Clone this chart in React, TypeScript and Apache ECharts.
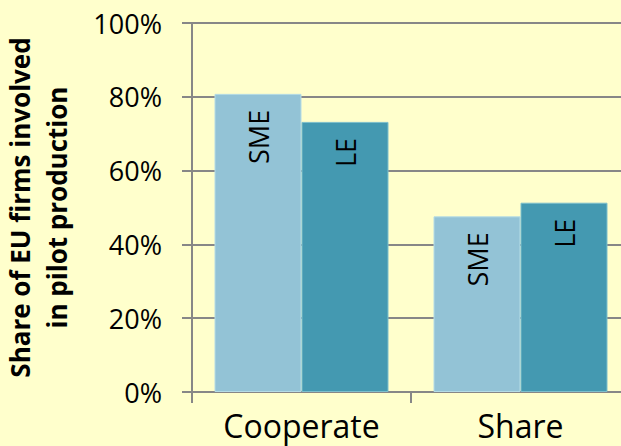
import React, { useEffect, useRef } from "react";
import * as echarts from "echarts";

const categories = ["Cooperate", "Share"];
const smeValues = [80.8, 47.6];
const leValues = [73.2, 51.3];
const seriesNames = ["SME", "LE"];
const yTicks = [0, 20, 40, 60, 80, 100];

const FONT = "'Open Sans', 'Noto Sans', sans-serif";

export default function App() {
  const ref = useRef<HTMLDivElement>(null);
  useEffect(() => {
    if (!ref.current) return;
    const chart = echarts.init(ref.current, null, { renderer: "svg" });
    const label = (name: string) => ({
      show: true,
      position: "insideTop",
      rotate: 90,
      align: "right",
      verticalAlign: "middle",
      distance: 16,
      formatter: () => name,
      color: "#000",
      fontFamily: FONT,
      fontSize: 27,
    });
    chart.setOption({
      animation: false,
      backgroundColor: "#FFFFCC",
      grid: {
        left: 192,
        top: 23,
        bottom: 54,
        right: -9,
        containLabel: false,
        outerBoundsMode: "none",
      },
      xAxis: {
        type: "category",
        data: categories,
        axisLine: { lineStyle: { color: "#878787", width: 2 } },
        axisTick: { show: true, length: 11, lineStyle: { color: "#878787", width: 2 } },
        axisLabel: { color: "#000", fontFamily: FONT, fontSize: 32, margin: 17 },
      },
      yAxis: {
        type: "value",
        min: yTicks[0],
        max: yTicks[yTicks.length - 1],
        interval: 20,
        name: "Share of EU firms involved\nin pilot production",
        nameLocation: "middle",
        nameGap: 117,
        nameTextStyle: {
          color: "#000",
          fontFamily: FONT,
          fontWeight: "bold",
          fontSize: 26,
          lineHeight: 37,
        },
        axisLine: { show: true, lineStyle: { color: "#878787", width: 2 } },
        axisTick: { show: true, length: 10, lineStyle: { color: "#878787", width: 2 } },
        splitLine: { show: true, lineStyle: { color: "#878787", width: 2 } },
        axisLabel: {
          color: "#000",
          fontFamily: FONT,
          fontSize: 27,
          margin: 30,
          formatter: (v: number) => v + "%",
        },
      },
      series: [
        {
          name: seriesNames[0],
          type: "bar",
          data: smeValues,
          barWidth: 87,
          barGap: "0%",
          itemStyle: { color: "#93C3D6", borderColor: "#B5DCE6", borderWidth: 1 },
          label: label(seriesNames[0]),
        },
        {
          name: seriesNames[1],
          type: "bar",
          data: leValues,
          barWidth: 87,
          barGap: "0%",
          itemStyle: { color: "#4499B1", borderColor: "#7DBFCC", borderWidth: 1 },
          label: label(seriesNames[1]),
        },
      ],
    });
    return () => chart.dispose();
  }, []);
  return <div ref={ref} style={{ width: 621, height: 446, position: "absolute", left: 0, top: 0 }} />;
}
